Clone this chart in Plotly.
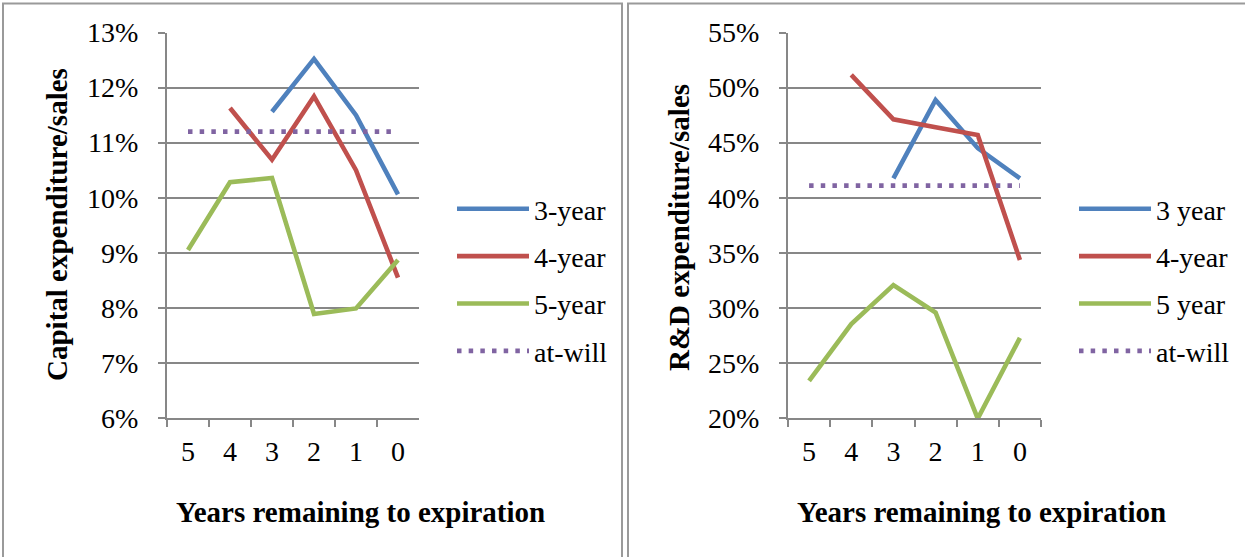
import plotly.graph_objects as go

categories = ["5", "4", "3", "2", "1", "0"]

# Left panel: Capital expenditure / sales (%)
cap_3yr = [None, None, 11.56, 12.52, 11.50, 10.06]
cap_4yr = [None, 11.63, 10.69, 11.84, 10.50, 8.55]
cap_5yr = [9.05, 10.28, 10.36, 7.89, 7.99, 8.87]
cap_atwill = [11.2, 11.2, 11.2, 11.2, 11.2, 11.2]

# Right panel: R&D expenditure / sales (%)
rd_3yr = [None, None, 41.76, 48.88, 44.5, 41.76]
rd_4yr = [None, 51.15, 47.12, 46.4, 45.70, 34.34]
rd_5yr = [23.36, 28.52, 32.06, 29.58, 19.95, 27.27]
rd_atwill = [41.1, 41.1, 41.1, 41.1, 41.1, 41.1]

left_names = ["3-year", "4-year", "5-year", "at-will"]
right_names = ["3 year", "4-year", "5 year", "at-will"]
colors = ["#4F81BD", "#C0504D", "#9BBB59", "#8064A2"]

FONT = "Liberation Serif"
GRID = "#878787"
W, H = 1245, 557

fig = go.Figure()

left_series = [cap_3yr, cap_4yr, cap_5yr, cap_atwill]
right_series = [rd_3yr, rd_4yr, rd_5yr, rd_atwill]

for i, (vals, name) in enumerate(zip(left_series, left_names)):
    dash = "4.5px,7.17px" if name == "at-will" else "solid"
    fig.add_trace(go.Scatter(
        x=categories, y=vals, name=name, mode="lines",
        line=dict(color=colors[i], width=4.6, dash=dash),
        xaxis="x", yaxis="y", legend="legend", legendgroup="L%d" % i,
        connectgaps=False, hoverinfo="skip"))

for i, (vals, name) in enumerate(zip(right_series, right_names)):
    dash = "4.5px,7.17px" if name == "at-will" else "solid"
    fig.add_trace(go.Scatter(
        x=categories, y=vals, name=name, mode="lines",
        line=dict(color=colors[i], width=4.6, dash=dash),
        xaxis="x2", yaxis="y2", legend="legend2", legendgroup="R%d" % i,
        connectgaps=False, hoverinfo="skip"))

ydom = [(H - 418) / H, (H - 32.5) / H]

xcommon = dict(type="category", categoryorder="array", categoryarray=categories,
               tickson="boundaries", ticks="outside", ticklen=7, tickwidth=2,
               tickcolor=GRID, showline=True, linecolor=GRID, linewidth=2,
               showgrid=False, zeroline=False, range=[-0.5, 5.5],
               tickfont=dict(family=FONT, size=28, color="black"),
               ticklabelstandoff=7, automargin=False)
ycommon = dict(ticks="outside", ticklen=7, tickwidth=2, tickcolor=GRID,
               showline=True, linecolor=GRID, linewidth=2, showgrid=True,
               gridcolor=GRID, gridwidth=2, zeroline=False, ticksuffix="%",
               tickfont=dict(family=FONT, size=28, color="black"),
               ticklabelstandoff=14, automargin=False)

fig.update_layout(
    width=W, height=H,
    margin=dict(l=0, r=0, t=0, b=0, autoexpand=False),
    paper_bgcolor="white", plot_bgcolor="white",
    xaxis=dict(domain=[167 / W, 419 / W], anchor="y", **xcommon),
    yaxis=dict(domain=ydom, anchor="x", range=[6, 13], dtick=1, **ycommon),
    xaxis2=dict(domain=[788 / W, 1041 / W], anchor="y2", **xcommon),
    yaxis2=dict(domain=ydom, anchor="x2", range=[20, 55], dtick=5, **ycommon),
    legend=dict(x=452 / W, y=(H - 184) / H, xanchor="left", yanchor="top",
                font=dict(family=FONT, size=28, color="black"),
                itemwidth=72, tracegroupgap=8, bgcolor="rgba(0,0,0,0)"),
    legend2=dict(x=1074 / W, y=(H - 184) / H, xanchor="left", yanchor="top",
                 font=dict(family=FONT, size=28, color="black"),
                 itemwidth=72, tracegroupgap=8, bgcolor="rgba(0,0,0,0)"),
    showlegend=True,
)

# axis titles
title_font = dict(family=FONT, size=29, color="black")
fig.add_annotation(text="<b>Capital expenditure/sales</b>", xref="paper", yref="paper",
                   x=57 / W, y=(H - 225) / H, showarrow=False, textangle=-90,
                   font=title_font, xanchor="center", yanchor="middle")
fig.add_annotation(text="<b>R&amp;D expenditure/sales</b>", xref="paper", yref="paper",
                   x=679 / W, y=(H - 228) / H, showarrow=False, textangle=-90,
                   font=title_font, xanchor="center", yanchor="middle")
fig.add_annotation(text="<b>Years remaining to expiration</b>", xref="paper", yref="paper",
                   x=360 / W, y=(H - 512) / H, showarrow=False,
                   font=title_font, xanchor="center", yanchor="middle")
fig.add_annotation(text="<b>Years remaining to expiration</b>", xref="paper", yref="paper",
                   x=981 / W, y=(H - 512) / H, showarrow=False,
                   font=title_font, xanchor="center", yanchor="middle")

# panel borders
border = dict(color="#9a9a9a", width=2)
fig.add_shape(type="rect", xref="paper", yref="paper",
              x0=3 / W, x1=622 / W, y0=-0.05, y1=(H - 3.5) / H, line=border, layer="below")
fig.add_shape(type="rect", xref="paper", yref="paper",
              x0=628 / W, x1=1.05, y0=-0.05, y1=(H - 3.5) / H, line=border, layer="below")

fig.write_html("out.html", config={"displayModeBar": False},
               post_script="document.body.style.margin='0';document.body.style.overflow='hidden';")
